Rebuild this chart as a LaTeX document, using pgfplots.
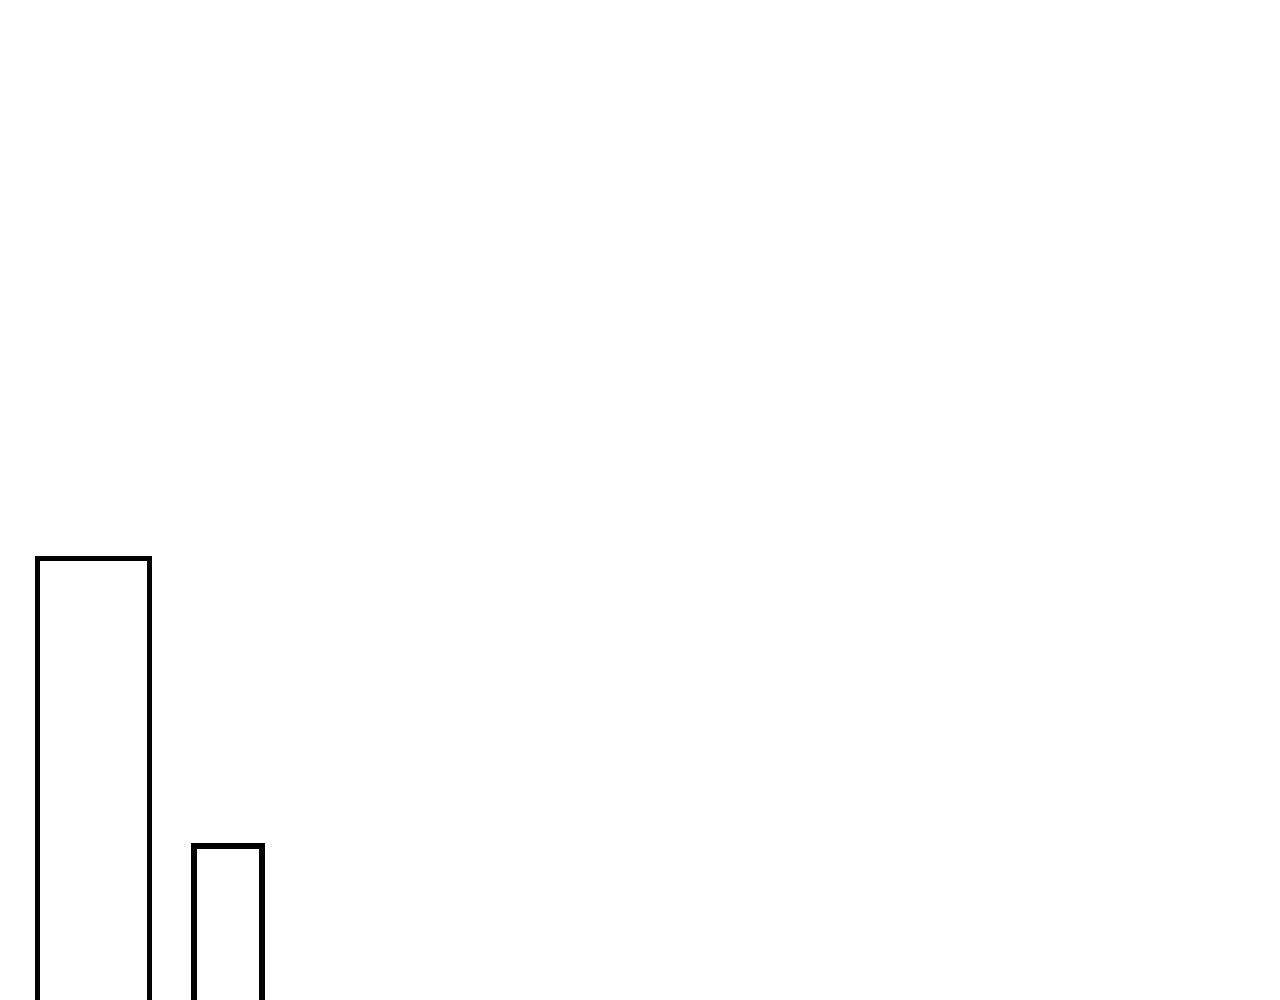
\documentclass[border=0pt]{standalone}
\usepackage{pgfplots}
\pgfplotsset{compat=1.18}

\begin{document}
\begin{tikzpicture}
\begin{axis}[
    scale only axis,
    width=12.8cm,
    height=10cm,
    xmin=0, xmax=1280,
    ymin=0, ymax=1000,
    axis line style={draw=none},
    ticks=none,
    clip=true,
    ]
% bar outlines; the bars run past the lower edge of the picture
\addplot[black, line width=1.5pt, line join=miter, mark=none]
    coordinates {(37.5,-20) (37.5,441.5) (149.5,441.5) (149.5,-20)};
\addplot[black, line width=1.5pt, line join=miter, mark=none]
    coordinates {(194,-20) (194,154) (262,154) (262,-20)};
\end{axis}
\end{tikzpicture}
\end{document}
